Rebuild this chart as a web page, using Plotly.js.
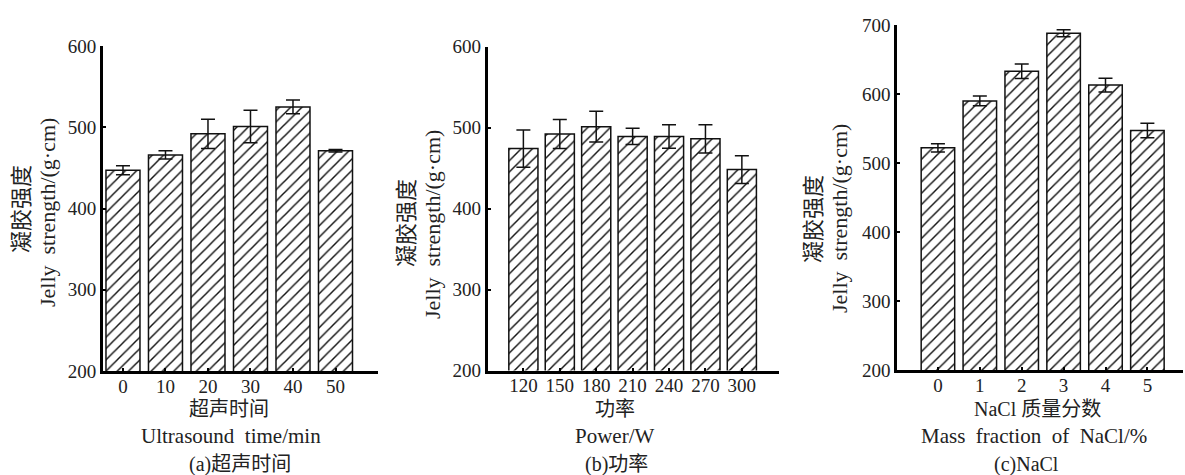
<!DOCTYPE html>
<html>
<head>
<meta charset="utf-8">
<script src="https://cdn.plot.ly/plotly-3.0.1.min.js"></script>
<style>html,body{margin:0;padding:0;background:#fff;}#chart{width:1185px;height:475px;}</style>
</head>
<body>
<div id="chart"></div>
<script>
// Panel (a) ultrasound time
const catsA = ['0', '10', '20', '30', '40', '50'];
const valsA = [447, 466, 492, 501, 525, 471];
const errA = [5.5, 5, 18, 20, 8.5, 1.5];
// Panel (b) power
const catsB = ['120', '150', '180', '210', '240', '270', '300'];
const valsB = [474, 492, 501, 489, 489, 486, 448];
const errB = [23, 18, 19, 10, 14.5, 17.5, 17];
// Panel (c) NaCl mass fraction
const catsC = ['0', '1', '2', '3', '4', '5'];
const valsC = [522, 590, 633, 688, 613, 547];
const errC = [6, 7, 10.5, 5, 10, 10.5];

const yTicksAB = [200, 300, 400, 500, 600];
const yTicksC = [200, 300, 400, 500, 600, 700];

const FONT = 'Liberation Serif, "Noto Sans CJK SC", serif';
const W = 1185, H = 475;
const px = v => v / W;
const py = v => (H - v) / H;

function barTrace(cats, vals, errs, xa, ya) {
  return {
    type: 'bar', x: cats, y: vals, xaxis: xa, yaxis: ya, width: 0.8,
    marker: {
      color: 'white',
      line: {color: '#111', width: 1.5},
      pattern: {shape: '/', size: 8, solidity: 0.18, fgcolor: '#111', fgopacity: 1, bgcolor: 'white', fillmode: 'overlay'}
    },
    error_y: {type: 'data', array: errs, visible: true, color: '#111', thickness: 1.5, width: 7},
    hoverinfo: 'skip'
  };
}

function xAxis(domain, range, anchor) {
  return {
    domain: domain, range: range, type: 'category', anchor: anchor,
    showline: true, linecolor: '#000', linewidth: 3,
    ticks: 'inside', ticklen: 3, tickwidth: 2, tickcolor: '#000',
    showgrid: false, zeroline: false, fixedrange: true,
    ticklabelstandoff: -4,
    tickfont: {family: FONT, size: 19, color: '#222'}
  };
}
function yAxis(domain, range, tickvals, anchor) {
  return {
    domain: domain, range: range, anchor: anchor,
    tickvals: tickvals, ticktext: tickvals.map(String),
    showline: true, linecolor: '#000', linewidth: 3,
    ticks: 'inside', ticklen: 3, tickwidth: 2, tickcolor: '#000',
    showgrid: false, zeroline: false, fixedrange: true,
    tickfont: {family: FONT, size: 19, color: '#222'}
  };
}

const data = [
  barTrace(catsA, valsA, errA, 'x', 'y'),
  barTrace(catsB, valsB, errB, 'x2', 'y2'),
  barTrace(catsC, valsC, errC, 'x3', 'y3')
];

function ann(text, x, y, size, angle) {
  return {
    text: text, xref: 'paper', yref: 'paper', x: px(x), y: py(y),
    xanchor: 'center', yanchor: 'middle', showarrow: false,
    textangle: angle || 0,
    font: {family: FONT, size: size, color: '#222'}
  };
}

const annotations = [
  // y titles
  ann('凝胶强度', 22, 209, 22, -90),
  ann('Jelly  strength/(g·cm)', 47, 213, 22, -90),
  ann('凝胶强度', 407, 223, 22, -90),
  ann('Jelly  strength/(g·cm)', 432, 225, 22, -90),
  ann('凝胶强度', 813, 219, 22, -90),
  ann('Jelly  strength/(g·cm)', 839, 219, 22, -90),
  // x titles and captions
  ann('超声时间', 229, 409, 20),
  ann('Ultrasound  time/min', 231, 436, 21),
  ann('(a)超声时间', 240, 464, 20),
  ann('功率', 615, 409, 20),
  ann('Power/W', 614, 436, 21),
  ann('(b)功率', 616, 464, 20),
  ann('NaCl 质量分数', 1037, 409, 20),
  ann('Mass  fraction  of  NaCl/%', 1034, 436, 21),
  ann('(c)NaCl', 1026, 464, 20)
];

const layout = {
  width: W, height: H,
  margin: {l: 0, r: 0, t: 0, b: 0},
  paper_bgcolor: 'white', plot_bgcolor: 'rgba(0,0,0,0)',
  showlegend: false,
  font: {family: FONT, color: '#222'},
  xaxis: xAxis([px(103), px(378)], [-0.47, 6.0], 'y'),
  yaxis: yAxis([py(371), py(46)], [200, 600], yTicksAB, 'x'),
  xaxis2: xAxis([px(487.7), px(779)], [-0.98, 7.02], 'y2'),
  yaxis2: yAxis([py(370.5), py(46.5)], [200, 600], yTicksAB, 'x2'),
  xaxis3: xAxis([px(897.3), px(1183)], [-0.97, 5.85], 'y3'),
  yaxis3: yAxis([py(370), py(25)], [200, 700], yTicksC, 'x3'),
  annotations: annotations
};

Plotly.newPlot('chart', data, layout, {staticPlot: true, displayModeBar: false});
</script>
</body>
</html>
